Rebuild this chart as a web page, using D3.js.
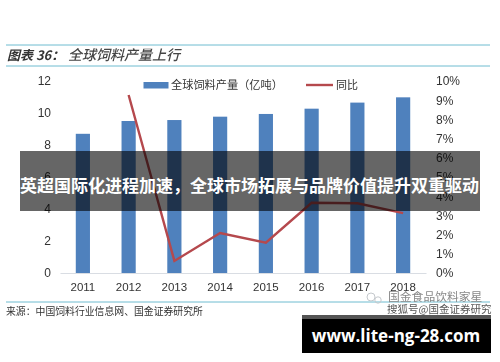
<!DOCTYPE html>
<html><head><meta charset="utf-8">
<style>html,body{margin:0;padding:0;background:#fff}svg{display:block}</style>
<script src="https://cdn.jsdelivr.net/npm/d3@7/dist/d3.min.js"></script></head>
<body><svg id="c" width="500" height="362"></svg>
<script>
const years=["2011","2012","2013","2014","2015","2016","2017","2018"];
const output=[8.7,9.5,9.56,9.77,9.94,10.27,10.65,10.98];
const yoy=[null,9.27,0.63,2.08,1.58,3.66,3.63,3.12];
const leftTicks=[0,2,4,6,8,10,12];
const rightTicks=[0,1,2,3,4,5,6,7,8,9,10];
const titleLead="图表 36：";
const titleText="全球饲料产量上行";
const sourceText="来源：中国饲料行业信息网、国金证券研究所";
const legendLabels=["全球饲料产量（亿吨）","同比"];
const bannerText="英超国际化进程加速，全球市场拓展与品牌价值提升双重驱动";
const siteText="www.lite-ng-28.com";
const markText=["国金食品饮料家星","搜狐号@国金证券研究"];

const svg=d3.select("#c");
const defs=svg.append("defs");
defs.append("filter").attr("id","soft").append("feGaussianBlur").attr("stdDeviation",0.45);
const sans="Liberation Sans, Arial, sans-serif", cjk="'Noto Sans CJK SC', sans-serif";
const x=d3.scaleBand().domain(years).range([60,426]).paddingInner(0.69).paddingOuter(0.345);
const yL=d3.scaleLinear().domain([0,12]).range([273,81]);
const yR=d3.scaleLinear().domain([0,10]).range([273,81]);
const g=svg.append("g").attr("filter","url(#soft)");

// rules
[45,66,302].forEach(y=>g.append("line").attr("x1",6).attr("x2",490).attr("y1",y).attr("y2",y).attr("stroke","#6fbcd0").attr("stroke-width",1));
const tt=g.append("text").attr("x",7).attr("y",60).attr("font-family",cjk).attr("font-style","italic").attr("fill","#333");
tt.append("tspan").attr("font-size",13).attr("font-weight",700).text(titleLead);
tt.append("tspan").attr("x",68).attr("font-size",14).attr("font-weight",500).attr("fill","#444").text(titleText);

// axes
const ax=g.append("g").attr("transform","translate(0,273)").call(d3.axisBottom(x).tickSize(0).tickPadding(10));
ax.select(".domain").attr("stroke","#d9dde3");
ax.selectAll("text").attr("font-family",sans).attr("font-size",11.5).attr("fill","#333");
const al=g.append("g").attr("transform","translate(55,0)").call(d3.axisLeft(yL).tickValues(leftTicks).tickSize(0).tickPadding(4));
al.select(".domain").remove();
al.selectAll("text").attr("font-family",sans).attr("font-size",12).attr("fill","#333");
const ar=g.append("g").attr("transform","translate(436,0)").call(d3.axisRight(yR).tickValues(rightTicks).tickSize(0).tickPadding(0).tickFormat(d=>d+"%"));
ar.select(".domain").remove();
ar.selectAll("text").attr("font-family",sans).attr("font-size",12).attr("fill","#333");

// marks
g.selectAll("rect.bar").data(years).join("rect").attr("class","bar")
 .attr("x",d=>x(d)).attr("width",x.bandwidth())
 .attr("y",(d,i)=>yL(output[i])).attr("height",(d,i)=>273-yL(output[i])).attr("fill","#4f81bd");
const line=d3.line().defined(d=>d!==null).x((d,i)=>x(years[i])+x.bandwidth()/2).y(d=>yR(d));
g.append("path").attr("d",line(yoy)).attr("fill","none").attr("stroke","#b5484d").attr("stroke-width",2.4);

// legend
g.append("rect").attr("x",143.5).attr("y",82).attr("width",25).attr("height",6.5).attr("fill","#4f81bd");
g.append("text").attr("x",171).attr("y",89).attr("font-family",cjk).attr("font-size",11.2).attr("fill","#333").text(legendLabels[0]);
g.append("line").attr("x1",306).attr("x2",333).attr("y1",85).attr("y2",85).attr("stroke","#b5484d").attr("stroke-width",2.4);
g.append("text").attr("x",336).attr("y",89).attr("font-family",cjk).attr("font-size",11).attr("fill","#333").text(legendLabels[1]);

// source
g.append("text").attr("x",6).attr("y",315).attr("font-family",cjk).attr("font-size",9.85).attr("fill","#333").text(sourceText);
// watermark
g.append("circle").attr("cx",371).attr("cy",297).attr("r",4).attr("fill","none").attr("stroke","#c4c8cc").attr("stroke-width",1);
g.append("circle").attr("cx",378).attr("cy",300).attr("r",3.2).attr("fill","none").attr("stroke","#c4c8cc").attr("stroke-width",1);
g.append("text").attr("x",388).attr("y",301).attr("font-family",cjk).attr("font-size",11.8).attr("fill","#888").text(markText[0]);
g.append("text").attr("x",387).attr("y",312.5).attr("font-family",cjk).attr("font-size",10.5).attr("fill","#555").text(markText[1]);

// overlays
svg.append("rect").attr("x",20).attr("y",151).attr("width",460).attr("height",60).attr("fill","#000").attr("fill-opacity",0.6);
svg.append("text").attr("x",20).attr("y",192).attr("font-family",cjk).attr("font-size",17).attr("font-weight",700).attr("fill","#fff").text(bannerText);
svg.append("rect").attr("x",302).attr("y",315).attr("width",189).attr("height",38).attr("fill","#000");
svg.append("rect").attr("x",302).attr("y",315).attr("width",189).attr("height",4).attr("fill","#555");
svg.append("text").attr("x",396).attr("y",342).attr("text-anchor","middle").attr("font-family","'Open Sans',sans-serif").attr("font-size",17).attr("font-weight",700).attr("fill","#fff").text(siteText);
</script></body></html>
